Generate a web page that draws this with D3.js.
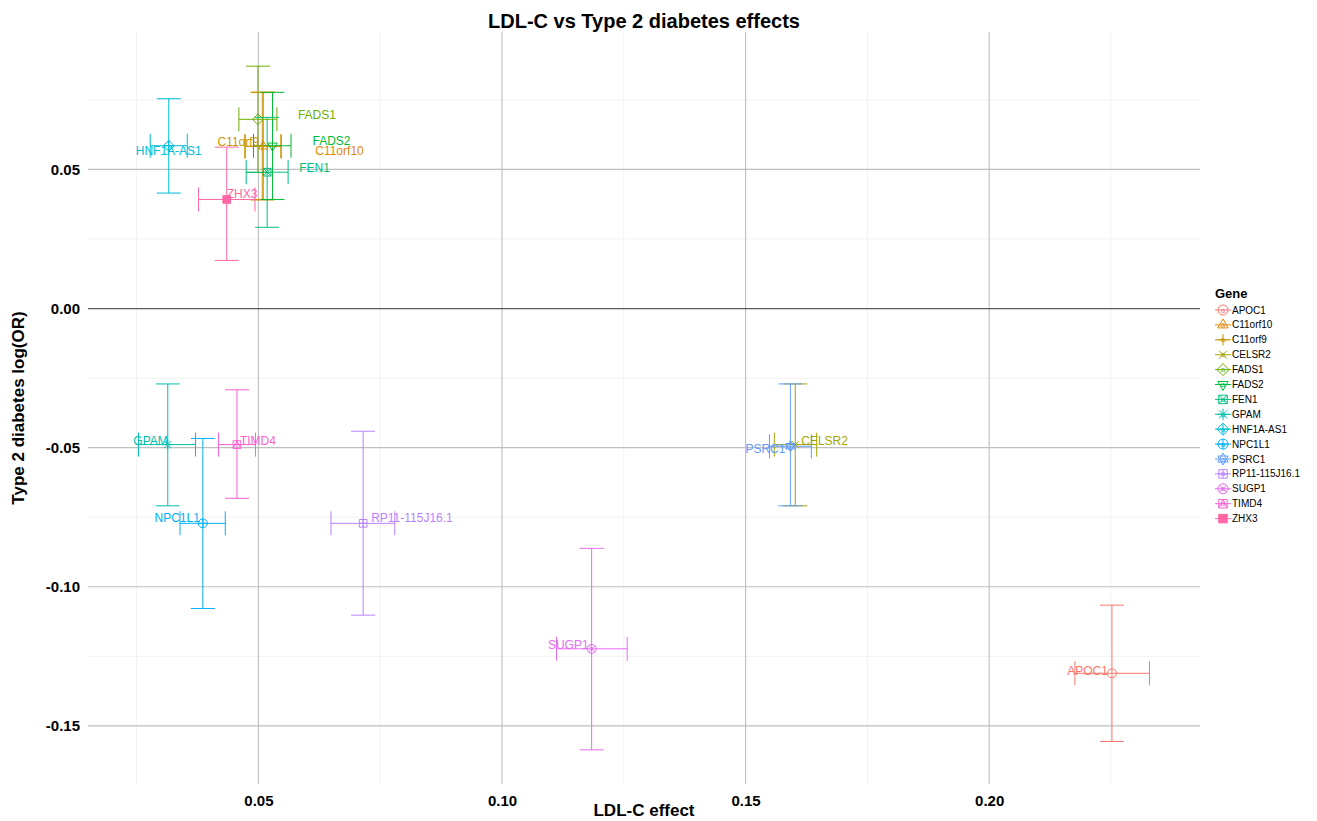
<!DOCTYPE html>
<html>
<head>
<meta charset="utf-8">
<script src="https://cdn.jsdelivr.net/npm/d3@7"></script>
<style>
  body { margin: 0; background: #fff; }
  svg { display: block; font-family: "Liberation Sans", Arial, sans-serif; }
</style>
</head>
<body>
<svg id="chart" width="1317" height="821"></svg>
<script>
// data
const genes = ["APOC1", "C11orf10", "C11orf9", "CELSR2", "FADS1", "FADS2", "FEN1", "GPAM",
  "HNF1A-AS1", "NPC1L1", "PSRC1", "RP11-115J16.1", "SUGP1", "TIMD4", "ZHX3"];
const ldlEffect = [0.2252, 0.0510, 0.0508, 0.1602, 0.0499, 0.0529, 0.0518, 0.0314,
  0.0316, 0.0386, 0.1592, 0.0715, 0.1184, 0.0456, 0.0435];
const ldlLow = [0.2176, 0.0473, 0.0472, 0.1559, 0.0460, 0.0490, 0.0475, 0.0254,
  0.0278, 0.0339, 0.1549, 0.0649, 0.1112, 0.0418, 0.0377];
const ldlHigh = [0.2329, 0.0547, 0.0546, 0.1646, 0.0538, 0.0567, 0.0561, 0.0371,
  0.0354, 0.0432, 0.1635, 0.0780, 0.1257, 0.0494, 0.0493];
const t2dEffect = [-0.1311, 0.0583, 0.0583, -0.0489, 0.0680, 0.0585, 0.0490, -0.0489,
  0.0585, -0.0772, -0.0495, -0.0772, -0.1223, -0.0489, 0.0392];
const t2dLow = [-0.1556, 0.0392, 0.0390, -0.0709, 0.0489, 0.0392, 0.0292, -0.0709,
  0.0415, -0.1078, -0.0709, -0.1102, -0.1586, -0.0682, 0.0173];
const t2dHigh = [-0.1066, 0.0778, 0.0776, -0.0271, 0.0871, 0.0777, 0.0687, -0.0271,
  0.0754, -0.0467, -0.0271, -0.0441, -0.0862, -0.0292, 0.0580];

const xTicks = [0.05, 0.10, 0.15, 0.20];
const xMinorTicks = [0.025, 0.075, 0.125, 0.175, 0.225];
const yTicks = [0.05, 0.00, -0.05, -0.10, -0.15];
const yMinorTicks = [0.075, 0.025, -0.025, -0.075, -0.125];

// styling: ggplot hue palette and shapes 1..15
const palette = ["#F8766D", "#E58700", "#C99800", "#A3A500", "#6BB100", "#00BA38", "#00BF7D",
  "#00C0AF", "#00BCD8", "#00B0F6", "#619CFF", "#B983FF", "#E76BF3", "#FD61D1", "#FF67A4"];
const shapeIds = d3.range(1, 16);

// label placement (anchor + pixel nudge from the point)
const labelAnchor = ["end", "start", "end", "start", "start", "start", "start", "end",
  "middle", "end", "end", "start", "end", "start", "start"];
const labelDx = [-4, 52, -3, 6, 40, 40, 32, 0, 0, -3, -5, 8, -3, 3, 0];
const labelDy = [-2, 5, -4, -4, -4, -5, -4, -4, 5, -5, 3, -5, -4, -4, -5];

const rows = genes.map((g, i) => ({
  gene: g, x: ldlEffect[i], xlo: ldlLow[i], xhi: ldlHigh[i],
  y: t2dEffect[i], ylo: t2dLow[i], yhi: t2dHigh[i],
  color: palette[i], shape: shapeIds[i],
  anchor: labelAnchor[i], dx: labelDx[i], dy: labelDy[i]
}));

const svg = d3.select("#chart");
const panel = { left: 88, right: 1200, top: 32, bottom: 784 };

// ggplot style 5% expansion
function expand(ext) {
  const pad = (ext[1] - ext[0]) * 0.05;
  return [ext[0] - pad, ext[1] + pad];
}
const x = d3.scaleLinear()
  .domain(expand(d3.extent(ldlLow.concat(ldlHigh))))
  .range([panel.left, panel.right]);
const y = d3.scaleLinear()
  .domain(expand(d3.extent(t2dLow.concat(t2dHigh))))
  .range([panel.bottom, panel.top]);

// grid
const grid = svg.append("g");
grid.selectAll(".xminor").data(xMinorTicks).enter().append("line")
  .attr("x1", d => x(d)).attr("x2", d => x(d)).attr("y1", panel.top).attr("y2", panel.bottom)
  .attr("stroke", "#f2f2f2").attr("stroke-width", 1);
grid.selectAll(".yminor").data(yMinorTicks).enter().append("line")
  .attr("y1", d => y(d)).attr("y2", d => y(d)).attr("x1", panel.left).attr("x2", panel.right)
  .attr("stroke", "#f2f2f2").attr("stroke-width", 1);
grid.selectAll(".xmajor").data(xTicks).enter().append("line")
  .attr("x1", d => x(d)).attr("x2", d => x(d)).attr("y1", panel.top).attr("y2", panel.bottom)
  .attr("stroke", "#bfbfbf").attr("stroke-width", 1.1);
grid.selectAll(".ymajor").data(yTicks).enter().append("line")
  .attr("y1", d => y(d)).attr("y2", d => y(d)).attr("x1", panel.left).attr("x2", panel.right)
  .attr("stroke", d => d === 0 ? "#5a5a5a" : "#bfbfbf")
  .attr("stroke-width", d => d === 0 ? 1.3 : 1.1);

// axes (labels only, no lines); plain hyphen for negatives like R
const fmt = d => d3.format(".2f")(d).replace("\u2212", "-");
const xAxis = svg.append("g").attr("transform", `translate(0,${panel.bottom + 6})`)
  .call(d3.axisBottom(x).tickValues(xTicks).tickFormat(fmt).tickSize(0));
const yAxis = svg.append("g").attr("transform", `translate(${panel.left - 8},0)`)
  .call(d3.axisLeft(y).tickValues(yTicks).tickFormat(fmt).tickSize(0));
[xAxis, yAxis].forEach(a => {
  a.select(".domain").remove();
  a.selectAll("text").attr("font-family", "Liberation Sans, Arial, sans-serif")
    .attr("font-size", 15).attr("font-weight", "bold").attr("fill", "#000");
});
xAxis.selectAll("text").attr("dy", "0.85em");
yAxis.selectAll("text").attr("x", 0);

// shapes
function shapeParts(k, r) {
  const circle = `M${r},0A${r},${r} 0 1 1 ${-r},0A${r},${r} 0 1 1 ${r},0Z`;
  const t = r * 1.2;
  const triUp = `M0,${-t}L${t * 0.866},${t * 0.5}L${-t * 0.866},${t * 0.5}Z`;
  const triDown = `M0,${t}L${t * 0.866},${-t * 0.5}L${-t * 0.866},${-t * 0.5}Z`;
  const p = r * 1.15;
  const plus = `M${-p},0H${p}M0,${-p}V${p}`;
  const c = r * 0.8;
  const cross = `M${-c},${-c}L${c},${c}M${-c},${c}L${c},${-c}`;
  const m = r * 1.2;
  const diamond = `M0,${-m}L${m},0L0,${m}L${-m},0Z`;
  const s = r * 0.85;
  const square = `M${-s},${-s}H${s}V${s}H${-s}Z`;
  const sqCross = `M${-s},${-s}L${s},${s}M${-s},${s}L${s},${-s}`;
  const sqPlus = `M${-s},0H${s}M0,${-s}V${s}`;
  const sqTri = `M${-s},${s}L0,${-s}L${s},${s}`;
  const dPlus = `M${-m},0H${m}M0,${-m}V${m}`;
  const cPlus = `M${-r},0H${r}M0,${-r}V${r}`;
  const cc = r * 0.707;
  const cCross = `M${-cc},${-cc}L${cc},${cc}M${-cc},${cc}L${cc},${-cc}`;
  switch (k) {
    case 1: return [circle];
    case 2: return [triUp];
    case 3: return [plus];
    case 4: return [cross];
    case 5: return [diamond];
    case 6: return [triDown];
    case 7: return [square, sqCross];
    case 8: return [plus, cross];
    case 9: return [diamond, dPlus];
    case 10: return [circle, cPlus];
    case 11: return [triUp, triDown];
    case 12: return [square, sqPlus];
    case 13: return [circle, cCross];
    case 14: return [square, sqTri];
    default: return [square];
  }
}
function drawShape(g, d, r) {
  shapeParts(d.shape, r).forEach(path => {
    g.append("path").attr("d", path)
      .attr("fill", d.shape === 15 ? d.color : "none")
      .attr("stroke", d.color).attr("stroke-width", 1);
  });
}

const capV = 12, capH = 12;
const marks = svg.append("g");

// vertical error bars
const ev = marks.selectAll(".ev").data(rows).enter().append("g")
  .attr("stroke", d => d.color).attr("stroke-width", 1).attr("fill", "none");
ev.append("path").attr("d", d => {
  const cx = x(d.x), y1 = y(d.yhi), y2 = y(d.ylo);
  return `M${cx - capV},${y1}H${cx + capV}M${cx},${y1}V${y2}M${cx - capV},${y2}H${cx + capV}`;
});

// horizontal error bars
const eh = marks.selectAll(".eh").data(rows).enter().append("g")
  .attr("stroke", d => d.color).attr("stroke-width", 1).attr("fill", "none");
eh.append("path").attr("d", d => {
  const cy = y(d.y), x1 = x(d.xlo), x2 = x(d.xhi);
  return `M${x1},${cy - capH}V${cy + capH}M${x1},${cy}H${x2}M${x2},${cy - capH}V${cy + capH}`;
});

// points
marks.selectAll(".pt").data(rows).enter().append("g")
  .attr("transform", d => `translate(${x(d.x)},${y(d.y)})`)
  .each(function (d) { drawShape(d3.select(this), d, 4.5); });

// gene labels
marks.selectAll(".lab").data(rows).enter().append("text")
  .attr("x", d => x(d.x) + d.dx)
  .attr("y", d => y(d.y) + d.dy)
  .attr("text-anchor", d => d.anchor)
  .attr("dominant-baseline", "central")
  .attr("font-size", 12)
  .attr("fill", d => d.color)
  .text(d => d.gene);

// titles
const midX = (panel.left + panel.right) / 2;
svg.append("text").attr("x", midX).attr("y", 28)
  .attr("text-anchor", "middle").attr("font-size", 20).attr("font-weight", "bold")
  .text("LDL-C vs Type 2 diabetes effects");
svg.append("text").attr("x", midX).attr("y", 816)
  .attr("text-anchor", "middle").attr("font-size", 17).attr("font-weight", "bold")
  .text("LDL-C effect");
svg.append("text")
  .attr("transform", `translate(24,${(panel.top + panel.bottom) / 2}) rotate(-90)`)
  .attr("text-anchor", "middle").attr("font-size", 17).attr("font-weight", "bold")
  .text("Type 2 diabetes log(OR)");

// legend
const legend = svg.append("g").attr("transform", "translate(1214,0)");
legend.append("text").attr("x", 1).attr("y", 298)
  .attr("font-size", 13).attr("font-weight", "bold").text("Gene");
const item = legend.selectAll(".item").data(rows).enter().append("g")
  .attr("transform", (d, i) => `translate(0,${310 + i * 14.9})`);
item.append("line").attr("x1", 1).attr("x2", 17).attr("y1", 0).attr("y2", 0)
  .attr("stroke", d => d.color).attr("stroke-width", 1);
item.append("g").attr("transform", "translate(9,0)")
  .each(function (d) { drawShape(d3.select(this), d, 5); });
item.append("text").attr("x", 9).attr("y", 0).attr("dominant-baseline", "central")
  .attr("text-anchor", "middle").attr("font-size", 8).attr("fill", d => d.color).text("a");
item.append("text").attr("x", 18).attr("y", 0).attr("dominant-baseline", "central")
  .attr("font-size", 10).attr("fill", "#000").text(d => d.gene);
</script>
</body>
</html>
